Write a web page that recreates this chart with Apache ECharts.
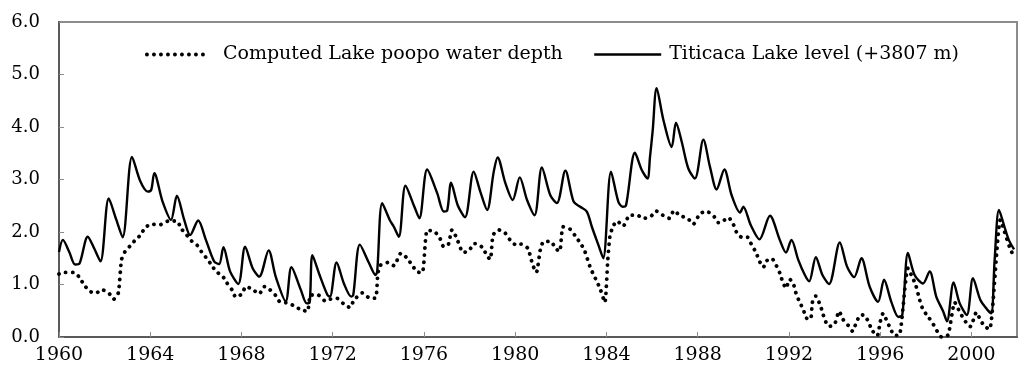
<!DOCTYPE html>
<html>
<head>
<meta charset="utf-8">
<script src="https://cdn.jsdelivr.net/npm/echarts@6/dist/echarts.min.js"></script>
<style>
html,body{margin:0;padding:0;background:#fff;}
#chart{width:1024px;height:380px;}
</style>
</head>
<body>
<div id="chart"></div>
<script>
// ---- Data ----
var xTickYears = [1960, 1964, 1968, 1972, 1976, 1980, 1984, 1988, 1992, 1996, 2000];
var yTickValues = [0, 1, 2, 3, 4, 5, 6];
var seriesNames = ['Computed Lake poopo water depth', 'Titicaca Lake level (+3807 m)'];

var titicacaYears = [
1960.00,1960.17,1960.45,1960.71,1960.90,1961.26,1961.55,1961.82,1962.18,1962.50,1962.79,
1963.20,1963.57,1963.89,1964.04,1964.18,1964.54,1964.91,1965.17,1965.49,1965.75,1966.10,
1966.44,1966.80,1967.02,1967.21,1967.50,1967.86,1968.16,1968.49,1968.78,1969.19,1969.50,
1969.94,1970.19,1970.60,1970.86,1970.99,1971.11,1971.40,1971.77,1971.88,1972.17,1972.49,
1972.81,1972.90,1973.19,1973.59,1973.88,1973.95,1974.17,1974.50,1974.68,1974.90,1975.19,
1975.58,1975.80,1976.14,1976.58,1976.87,1977.02,1977.19,1977.48,1977.80,1978.18,1978.47,
1978.77,1979.06,1979.23,1979.57,1979.89,1980.20,1980.52,1980.85,1981.17,1981.54,1981.83,
1982.20,1982.56,1982.85,1983.14,1983.36,1983.65,1983.86,1984.20,1984.52,1984.71,1984.86,
1985.25,1985.55,1985.80,1985.91,1986.03,1986.20,1986.50,1986.86,1987.05,1987.30,1987.59,
1987.88,1988.25,1988.54,1988.83,1989.17,1989.49,1989.86,1990.00,1990.33,1990.71,1991.17,
1991.60,1991.87,1992.11,1992.41,1992.70,1992.89,1993.18,1993.47,1993.76,1994.23,1994.55,
1994.86,1995.18,1995.54,1995.91,1996.17,1996.49,1996.80,1996.97,1997.22,1997.51,1997.88,
1998.17,1998.46,1998.76,1998.93,1999.22,1999.48,1999.80,2000.07,2000.39,2000.68,2000.87,
2001.02,2001.21,2001.45,2001.64,2001.87
];
var titicacaLevel = [
1.62,1.85,1.62,1.38,1.40,1.91,1.68,1.44,2.64,2.25,1.90,
3.43,2.96,2.77,2.80,3.12,2.58,2.23,2.69,2.23,1.94,2.22,
1.85,1.44,1.39,1.71,1.25,1.01,1.72,1.31,1.15,1.65,1.15,
0.68,1.33,0.90,0.64,0.66,1.56,1.21,0.80,0.77,1.42,1.02,
0.77,0.80,1.76,1.41,1.18,1.25,2.55,2.23,2.10,1.91,2.88,
2.48,2.26,3.19,2.74,2.39,2.41,2.94,2.51,2.28,3.15,2.77,
2.42,3.15,3.42,2.93,2.61,3.04,2.61,2.32,3.23,2.70,2.55,
3.17,2.58,2.48,2.39,2.10,1.75,1.50,3.15,2.58,2.48,2.51,
3.51,3.18,3.02,3.43,3.94,4.74,4.13,3.62,4.08,3.72,3.21,
3.02,3.76,3.24,2.81,3.19,2.70,2.37,2.48,2.13,1.86,2.31,
1.85,1.61,1.85,1.47,1.18,1.06,1.52,1.18,1.01,1.80,1.34,
1.14,1.50,0.96,0.67,1.09,0.67,0.38,0.42,1.60,1.18,1.02,
1.25,0.77,0.49,0.30,1.04,0.65,0.42,1.12,0.71,0.53,0.45,
1.47,2.42,2.10,1.85,1.67
];

var poopoYears = [
1960.00,1960.12,1960.67,1960.92,1961.10,1961.36,1961.60,1961.87,1962.16,1962.40,1962.60,
1962.74,1962.90,1963.13,1963.35,1963.57,1963.79,1964.08,1964.37,1964.81,1965.17,1965.35,
1965.60,1965.81,1966.05,1966.25,1966.47,1966.66,1966.88,1967.17,1967.36,1967.58,1967.75,
1968.02,1968.19,1968.48,1968.78,1969.00,1969.22,1969.48,1969.70,1969.99,1970.28,1970.60,
1970.89,1971.03,1971.36,1971.66,1971.88,1972.17,1972.46,1972.76,1972.93,1973.30,1973.63,
1973.88,1973.98,1974.10,1974.43,1974.68,1975.00,1975.26,1975.48,1975.70,1975.93,1976.14,
1976.46,1976.70,1976.85,1977.06,1977.23,1977.42,1977.72,1977.97,1978.20,1978.33,1978.59,
1978.77,1978.91,1979.03,1979.27,1979.56,1979.79,1980.05,1980.25,1980.55,1980.77,1980.93,
1981.10,1981.25,1981.57,1981.76,1981.95,1982.10,1982.42,1982.64,1982.85,1983.03,1983.27,
1983.42,1983.59,1983.74,1983.93,1984.06,1984.15,1984.28,1984.47,1984.73,1985.02,1985.34,
1985.64,1985.93,1986.18,1986.47,1986.76,1986.96,1987.23,1987.56,1987.81,1988.10,1988.39,
1988.68,1988.90,1989.12,1989.34,1989.56,1989.71,1989.93,1990.19,1990.37,1990.56,1990.70,
1990.88,1991.02,1991.24,1991.46,1991.60,1991.72,1991.87,1992.04,1992.22,1992.33,1992.48,
1992.63,1992.77,1992.95,1993.03,1993.18,1993.35,1993.47,1993.57,1993.76,1994.01,1994.20,
1994.38,1994.60,1994.79,1994.96,1995.14,1995.33,1995.50,1995.66,1995.87,1996.01,1996.13,
1996.30,1996.44,1996.63,1996.85,1997.22,1997.41,1997.56,1997.73,1997.88,1998.10,1998.32,
1998.50,1998.69,1998.98,1999.27,1999.44,1999.60,1999.78,1999.96,2000.22,2000.39,2000.58,
2000.80,2001.27,2001.45,2001.67,2001.87
];
var poopoDepth = [
1.20,1.23,1.23,1.12,0.99,0.87,0.83,0.90,0.85,0.72,0.84,
1.47,1.63,1.74,1.85,1.94,2.09,2.15,2.13,2.21,2.21,2.07,
1.94,1.83,1.75,1.62,1.50,1.39,1.25,1.16,1.03,0.90,0.76,
0.82,0.96,0.91,0.82,0.96,0.91,0.80,0.66,0.65,0.60,0.52,
0.49,0.80,0.80,0.69,0.72,0.74,0.64,0.56,0.70,0.84,0.74,
0.74,1.21,1.37,1.42,1.36,1.60,1.50,1.37,1.24,1.23,2.03,
2.01,1.88,1.73,1.75,2.04,1.90,1.61,1.64,1.78,1.78,1.69,
1.54,1.48,1.94,2.04,1.98,1.84,1.75,1.77,1.69,1.37,1.23,
1.66,1.82,1.82,1.69,1.63,2.10,2.05,1.92,1.79,1.66,1.35,
1.20,1.05,0.90,0.66,1.47,1.91,2.10,2.21,2.11,2.32,2.32,
2.26,2.29,2.40,2.32,2.26,2.41,2.31,2.26,2.15,2.35,2.39,
2.32,2.18,2.21,2.28,2.15,1.99,1.90,1.90,1.75,1.61,1.45,
1.33,1.45,1.50,1.35,1.22,1.06,0.93,1.10,0.98,0.80,0.66,
0.52,0.36,0.34,0.66,0.78,0.63,0.48,0.33,0.20,0.25,0.49,
0.33,0.22,0.11,0.28,0.42,0.41,0.27,0.12,0.02,0.30,0.45,
0.30,0.17,0.03,0.04,1.31,1.14,0.99,0.71,0.52,0.39,0.25,
0.11,0.00,0.04,0.66,0.52,0.39,0.27,0.20,0.47,0.33,0.20,
0.15,2.23,2.01,1.72,1.52
];

function zip(xs, ys) { return xs.map(function (x, i) { return [x, ys[i]]; }); }

var FONT = '"DejaVu Serif", "Liberation Serif", serif';
var DOT_STYLE = { color: '#000', width: 3.8, type: [0.1, 6.9], cap: 'round', join: 'round' };
var SOLID_STYLE = { color: '#000', width: 2.4, type: 'solid', join: 'round' };
var chart = echarts.init(document.getElementById('chart'), null, { renderer: 'canvas' });

chart.setOption({
  animation: false,
  backgroundColor: '#ffffff',
  grid: { left: 59, right: 7, top: 22, bottom: 43, show: true, borderColor: '#8c8c8c', borderWidth: 2, backgroundColor: 'transparent' },
  legend: [
    {
      data: [seriesNames[0]], left: 145, top: 45, padding: 0, itemWidth: 62, itemHeight: 14,
      itemStyle: { opacity: 0, borderWidth: 0 },
      lineStyle: DOT_STYLE,
      textStyle: { fontFamily: FONT, fontSize: 19, color: '#000', padding: [0, 0, 0, 9] }
    },
    {
      data: [seriesNames[1]], left: 593, top: 45, padding: 0, itemWidth: 67, itemHeight: 14,
      itemStyle: { opacity: 0, borderWidth: 0 },
      lineStyle: SOLID_STYLE,
      textStyle: { fontFamily: FONT, fontSize: 19, color: '#000', padding: [0, 0, 0, 3] }
    }
  ],
  xAxis: {
    type: 'value', min: xTickYears[0], max: 2002, interval: 4,
    splitLine: { show: false },
    axisLine: { show: true, onZero: false, lineStyle: { color: '#5a5a5a', width: 2 } },
    axisTick: { show: true, inside: true, length: 5, lineStyle: { color: '#8c8c8c', width: 1 } },
    axisLabel: {
      showMaxLabel: false, margin: 9, color: '#000', fontFamily: FONT, fontSize: 19,
      formatter: function (v) { return xTickYears.indexOf(v) >= 0 ? String(v) : ''; }
    }
  },
  yAxis: {
    type: 'value', min: yTickValues[0], max: yTickValues[yTickValues.length - 1], interval: 1,
    splitLine: { show: false },
    axisLine: { show: true, lineStyle: { color: '#5a5a5a', width: 2 } },
    axisTick: { show: true, inside: true, length: 5, lineStyle: { color: '#8c8c8c', width: 1 } },
    axisLabel: {
      margin: 19, color: '#000', fontFamily: FONT, fontSize: 18,
      formatter: function (v) { return v.toFixed(1); }
    }
  },
  series: [
    {
      name: seriesNames[0], type: 'line', data: zip(poopoYears, poopoDepth),
      symbol: 'none', smooth: 0.2, z: 3,
      lineStyle: DOT_STYLE,
      itemStyle: { color: '#000' }
    },
    {
      name: seriesNames[1], type: 'line', data: zip(titicacaYears, titicacaLevel),
      symbol: 'none', smooth: 0.3, z: 4,
      lineStyle: SOLID_STYLE,
      itemStyle: { color: '#000' }
    }
  ]
});
</script>
</body>
</html>
